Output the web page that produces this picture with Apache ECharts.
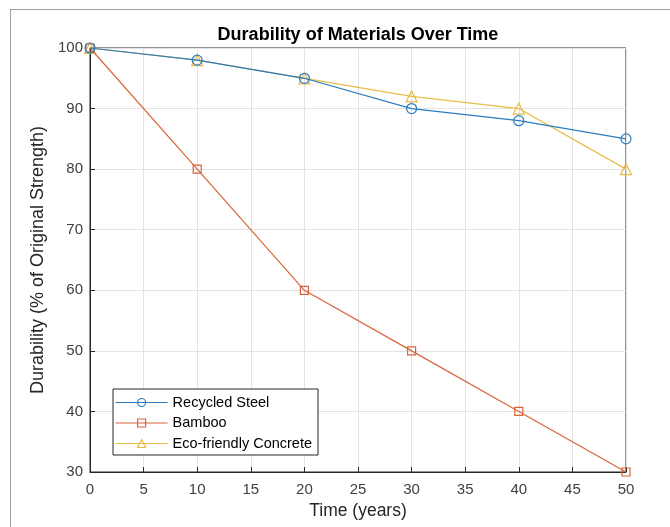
<!DOCTYPE html>
<html><head><meta charset="utf-8">
<script src="https://cdn.jsdelivr.net/npm/echarts@6/dist/echarts.min.js"></script>
<style>html,body{margin:0;padding:0;background:#fff;}#c{width:670px;height:527px;position:relative;}
#frame{position:absolute;left:10px;top:9px;width:700px;height:600px;border-left:1.5px solid #a0a0a0;border-top:1.5px solid #a0a0a0;pointer-events:none;}</style>
</head><body>
<div id="c"></div><div id="frame"></div>
<script>
const years = [0, 10, 20, 30, 40, 50];
const recycledSteel = [100, 98, 95, 90, 88, 85];
const bamboo = [100, 80, 60, 50, 40, 30];
const ecoConcrete = [100, 98, 95, 92, 90, 80];
const seriesNames = ['Recycled Steel', 'Bamboo', 'Eco-friendly Concrete'];
const colors = ['#2a7cbf', '#d9643a', '#e9bb4a'];
const symbols = ['circle', 'rect', 'triangle'];
const symbolSizes = [10, 8, 11];
const title = 'Durability of Materials Over Time';
const xName = 'Time (years)';
const yName = 'Durability (% of Original Strength)';

const font = 'Liberation Sans, Arial, sans-serif';
const chart = echarts.init(document.getElementById('c'), null, {renderer: 'canvas'});
const allData = [recycledSteel, bamboo, ecoConcrete];
const series = allData.map((vals, i) => ({
  name: seriesNames[i],
  type: 'line',
  data: years.map((x, j) => [x, vals[j]]),
  symbol: symbols[i],
  symbolSize: symbolSizes[i],
  showSymbol: true,
  clip: false,
  lineStyle: {color: colors[i], width: 1.2},
  itemStyle: {color: 'rgba(255,255,255,0)', borderColor: colors[i], borderWidth: 1.2},
  emphasis: {disabled: true},
  z: 3 + (2 - i)
}));
chart.setOption({
  animation: false,
  backgroundColor: '#fff',
  title: {text: title, left: 353, textAlign: 'center', top: 21,
    textStyle: {fontFamily: font, fontSize: 18, fontWeight: 'bold', color: '#000'}},
  grid: {left: 90, right: 44, top: 48, bottom: 55, show: true, borderColor: '#262626', borderWidth: 1, backgroundColor: '#fff'},
  legend: {
    orient: 'vertical', left: 113, top: 389,
    data: seriesNames,
    itemWidth: 52, itemHeight: 10, itemGap: 5.5,
    backgroundColor: '#fff', borderColor: '#262626', borderWidth: 1,
    padding: [6, 6, 4, 2],
    lineStyle: {width: 1.2},
    itemStyle: {borderWidth: 1.2},
    textStyle: {fontFamily: font, fontSize: 14.5, color: '#000'}
  },
  xAxis: {
    type: 'value', min: 0, max: 50, interval: 5,
    name: xName, nameLocation: 'middle', nameGap: 29,
    nameTextStyle: {fontFamily: font, fontSize: 17.5, color: '#262626'},
    axisLine: {show: true, lineStyle: {color: '#262626'}},
    axisTick: {show: true, inside: true, length: 5, lineStyle: {color: '#262626'}},
    axisLabel: {fontFamily: font, fontSize: 15, color: '#404040', margin: 10},
    splitLine: {show: true, lineStyle: {color: '#e3e3e3', width: 1}}
  },
  yAxis: {
    type: 'value', min: 30, max: 100, interval: 10,
    name: yName, nameLocation: 'middle', nameGap: 41,
    nameTextStyle: {fontFamily: font, fontSize: 18, color: '#262626'},
    axisLine: {show: true, lineStyle: {color: '#262626'}},
    axisTick: {show: true, inside: true, length: 5, lineStyle: {color: '#262626'}},
    axisLabel: {fontFamily: font, fontSize: 15, color: '#404040', margin: 7},
    splitLine: {show: true, lineStyle: {color: '#e3e3e3', width: 1}}
  },
  series: series
});
</script>
</body></html>
